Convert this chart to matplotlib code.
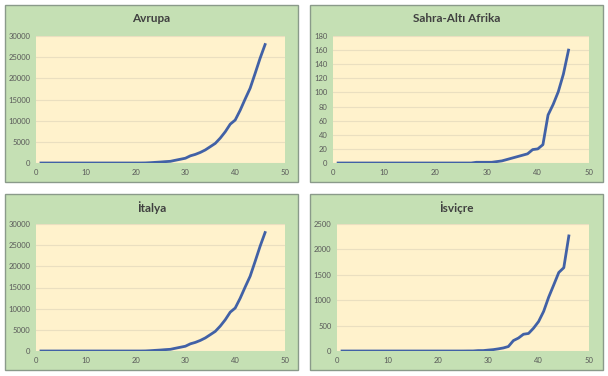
import matplotlib
matplotlib.use("Agg")
import matplotlib.pyplot as plt
from matplotlib.patches import Rectangle

# day numbers 1..46
days = list(range(1, 47))

# cumulative cases
italya = [2, 2, 2, 2, 2, 2, 3, 3, 3, 3, 3, 3, 3, 3, 3, 3, 3, 3, 3, 3, 3,
          20, 79, 157, 229, 322, 400, 650, 888, 1128, 1694, 2036, 2502, 3089,
          3858, 4636, 5883, 7375, 9172, 10149, 12462, 15113, 17660, 21157,
          24747, 27980]
avrupa = list(italya)
afrika = [0] * 27 + [1, 1, 1, 1, 2, 3, 5, 7, 9, 11, 13, 19, 20, 26,
                     68, 83, 101, 126, 160]
isvicre = [0] * 25 + [1, 1, 8, 8, 18, 27, 42, 60, 88, 205, 255, 330, 345,
                      450, 580, 780, 1060, 1300, 1545, 1640, 2265]

titles = ["Avrupa", "Sahra-Altı Afrika", "İtalya", "İsviçre"]
series = [avrupa, afrika, italya, isvicre]
ymax = [30000, 180, 30000, 2500]
ystep = [5000, 20, 5000, 500]

plt.rcParams["font.family"] = ["Lato", "DejaVu Sans"]

W, H = 608, 376
fig = plt.figure(figsize=(W / 100, H / 100), dpi=100)
fig.patch.set_facecolor("white")

# pixel boxes: panel (x0, y0, x1, y1) and plot area (x0, y0, x1, y1), top-left origin
panels = [(5, 5, 298, 182), (310, 5, 603, 182), (5, 194, 298, 370), (310, 194, 603, 370)]
areas = [(36, 36, 285, 163), (333, 36, 589, 163), (36, 224, 285, 351), (337, 224, 589, 351)]

for i in range(4):
    px0, py0, px1, py1 = panels[i]
    fig.patches.append(Rectangle((px0 / W, 1 - py1 / H), (px1 - px0) / W, (py1 - py0) / H,
                                 transform=fig.transFigure, facecolor="#c5e0b4",
                                 edgecolor="#8a9a8a", linewidth=1, zorder=-5))
    ax0, ay0, ax1, ay1 = areas[i]
    ax = fig.add_axes([ax0 / W, 1 - ay1 / H, (ax1 - ax0) / W, (ay1 - ay0) / H])
    ax.set_facecolor("#fff2cc")
    ax.plot(days, series[i], color="#4161a6", linewidth=2)
    ax.set_xlim(0, 50)
    ax.set_ylim(0, ymax[i])
    ax.set_xticks(range(0, 51, 10))
    ax.set_yticks(range(0, ymax[i] + 1, ystep[i]))
    ax.grid(axis="y", color="#eadfc0", linewidth=0.8)
    ax.set_axisbelow(True)
    for s in ax.spines.values():
        s.set_visible(False)
    ax.tick_params(length=0, labelsize=5.5, colors="#595959", pad=4)
    cx = (px0 + px1) / 2
    fig.text(cx / W, 1 - (py0 + 14) / H, titles[i], ha="center", va="center",
             fontsize=8.5, fontweight="bold", color="#404040")

fig.savefig("out.png", dpi=100)
